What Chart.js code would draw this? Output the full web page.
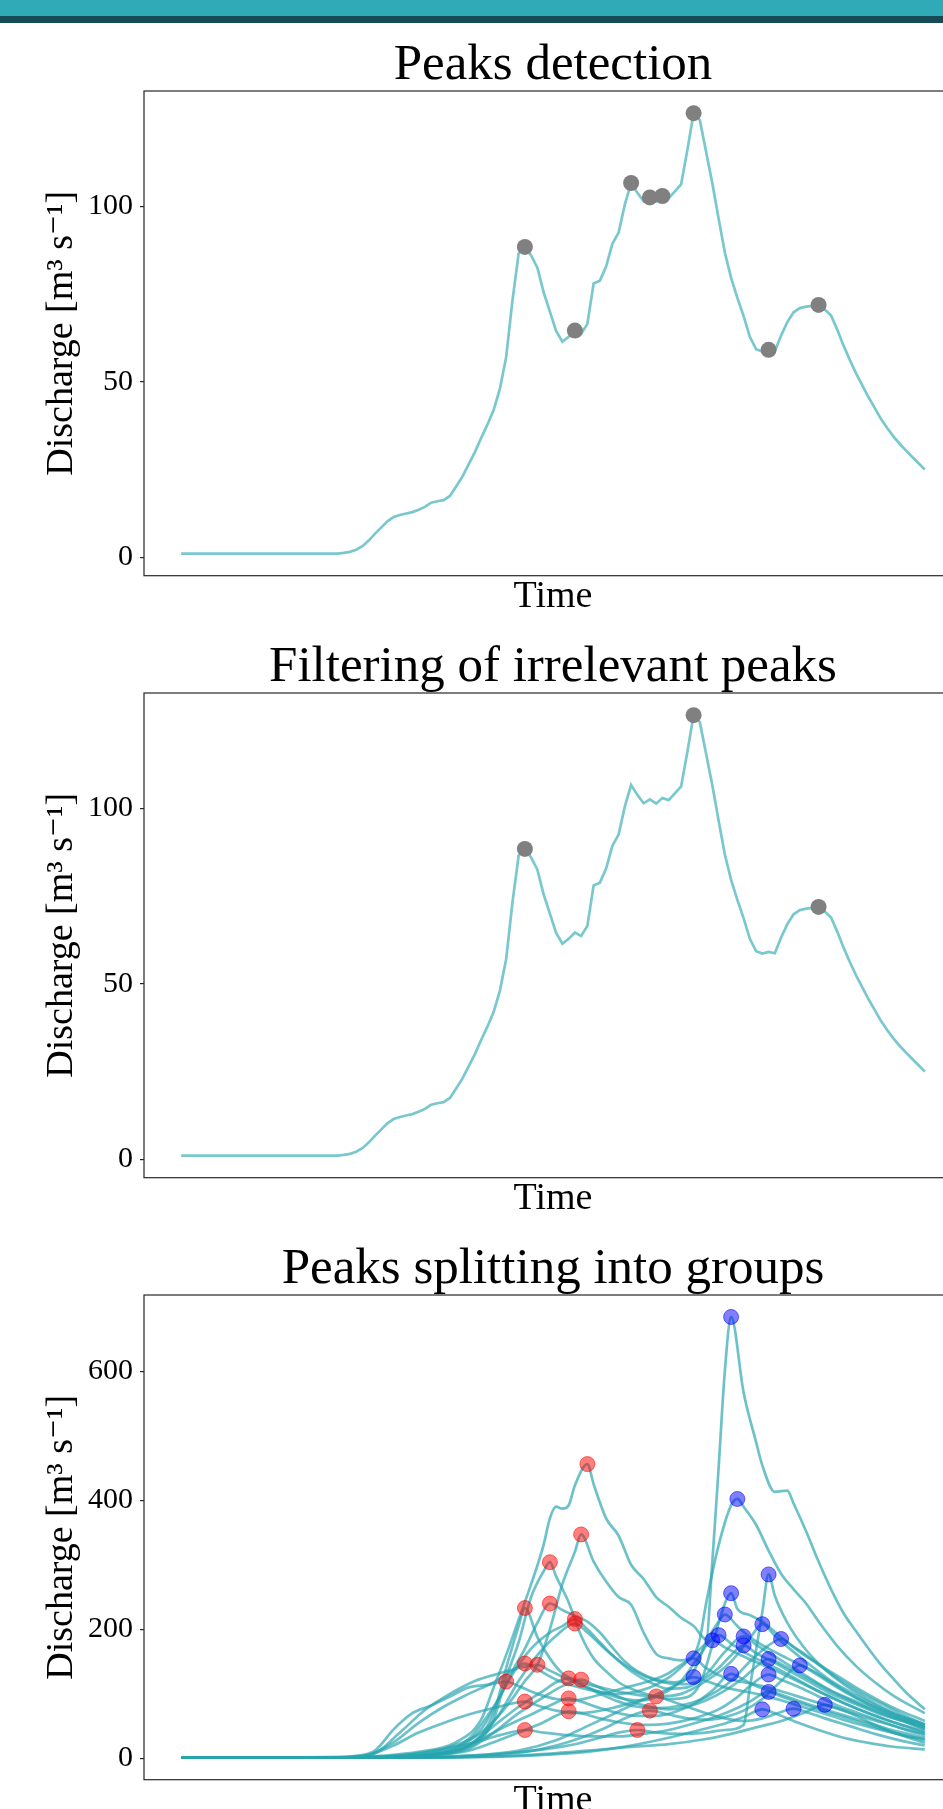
<!DOCTYPE html>
<html lang="en">
<head>
<meta charset="UTF-8">
<title>Peaks detection</title>
<style>
  * { margin: 0; padding: 0; box-sizing: border-box; }
  html, body { width: 943px; height: 1809px; overflow: hidden; background: #fff; }
  .band { position: absolute; left: 0; top: 0; width: 943px; height: 16px; background: #2faab6; }
  .band-dark { position: absolute; left: 0; top: 16px; width: 943px; height: 7px; background: #174b53; }
  canvas { position: absolute; left: 0; }
</style>
</head>
<body>
<div class="band"></div>
<div class="band-dark"></div>
<canvas id="peaks" width="1000" height="640" style="top:0px"></canvas>
<canvas id="filtered" width="1000" height="640" style="top:602px"></canvas>
<canvas id="groups" width="1000" height="640" style="top:1204px"></canvas>

<script src="https://cdn.jsdelivr.net/npm/chart.js@4"></script>
<script>
// hourly discharge of the example event (index = hour)
const flow = [
  1.1, 1.1, 1.1, 1.1, 1.1, 1.1, 1.1, 1.1, 1.1, 1.1,
  1.1, 1.1, 1.1, 1.1, 1.1, 1.1, 1.1, 1.1, 1.1, 1.1,
  1.1, 1.1, 1.1, 1.1, 1.1, 1.1, 1.3, 1.6, 2.2, 3.2,
  4.8, 6.7, 8.5, 10.3, 11.5, 12.1, 12.5, 12.9, 13.6, 14.4,
  15.6, 16.0, 16.3, 17.5, 20.2, 23.0, 26.5, 30.0, 34.0, 37.8,
  42.0, 48.0, 57.0, 73.0, 86.5, 88.4, 86.0, 82.5, 75.5, 70.0,
  64.5, 61.4, 62.8, 64.6, 63.6, 66.5, 78.0, 78.8, 82.8, 89.3,
  92.5, 100.5, 106.6, 103.8, 101.4, 102.5, 101.3, 102.9, 102.3, 104.2,
  106.2, 116.0, 126.5, 124.5, 115.5, 106.5, 96.5, 86.8, 79.6, 73.9,
  68.7, 62.8, 59.3, 58.6, 59.1, 58.7, 63.2, 67.0, 69.8, 71.0,
  71.4, 71.6, 71.9, 70.6, 68.9, 64.8, 60.3, 56.2, 52.4, 49.0,
  45.6, 42.5, 39.4, 36.8, 34.4, 32.3, 30.4, 28.6, 26.8, 25.0
];

// detected peaks (hour indices) before and after filtering
const allPeaks = [55, 63, 72, 75, 77, 82, 94, 102];
const keptPeaks = [55, 82, 102];

const smallTicks = [0, 50, 100];
const bigTicks = [0, 200, 400, 600];

// many events: [hour, discharge]
const events = [
  [[0,1],[26,1.5],[32,4],[38,10],[44,25],[48,60],[50,110],[52,160],[54,215],[56,270],[58,331],[59,372],[60,390],[61,387],[62,392],[63,423],[65,456],[66,425],[68,372],[70,345],[72,300],[74,278],[76,250],[78,235],[80,218],[82,205],[84,185],[85,305],[86,450],[87,600],[88,684],[90,567],[92,490],[93,454],[95,413],[97,415],[98,395],[100,352],[102,305],[104,262],[106,225],[108,197],[110,170],[112,145],[114,123],[116,102],[119,76]],
  [[0,1],[28,1.5],[36,5],[42,15],[48,40],[52,80],[55,120],[57,145],[59,200],[61,270],[63,320],[64,347],[66,305],[68,274],[70,250],[72,238],[74,195],[76,162],[78,155],[80,152],[82,160],[83,185],[84,240],[86,330],[88,392],[89,402],[90,390],[92,362],[94,322],[96,286],[98,262],[100,240],[102,212],[105,174],[108,143],[111,118],[114,97],[119,70]],
  [[0,1],[28,1.5],[38,5],[44,12],[48,30],[50,60],[52,125],[54,180],[56,250],[58,290],[59,304],[60,282],[62,242],[64,190],[66,155],[68,135],[70,118],[72,108],[75,98],[78,92],[81,95],[83,115],[85,175],[87,240],[88,256],[89,232],[91,222],[93,212],[95,196],[97,180],[100,160],[103,138],[106,118],[109,100],[112,85],[115,70],[119,52]],
  [[0,1],[30,2],[40,6],[46,20],[50,70],[52,140],[54,205],[55,233],[57,188],[59,155],[61,132],[64,118],[68,108],[72,100],[76,96],[80,100],[84,120],[88,150],[91,186],[93,208],[95,190],[98,165],[101,142],[104,120],[108,98],[112,78],[116,62],[119,52]],
  [[0,1],[29,1.5],[38,4],[44,15],[48,45],[51,95],[53,135],[55,170],[57,210],[59,240],[61,230],[63,221],[65,212],[67,195],[69,172],[71,150],[73,135],[76,122],[79,118],[82,135],[84,180],[86,212],[87,223],[89,205],[91,188],[94,170],[97,155],[100,140],[103,122],[106,104],[110,84],[114,68],[119,50]],
  [[0,1],[30,2],[40,8],[46,30],[50,80],[53,130],[56,170],[59,195],[61,205],[63,216],[65,200],[67,180],[69,160],[72,135],[75,118],[78,108],[81,110],[84,130],[87,165],[90,189],[92,176],[95,158],[98,140],[101,122],[104,105],[108,88],[112,72],[116,58],[119,48]],
  [[0,1],[32,2],[42,8],[47,25],[51,70],[54,120],[57,160],[60,190],[63,209],[65,195],[68,168],[71,145],[74,128],[77,118],[80,115],[83,120],[86,140],[88,160],[90,175],[92,163],[95,148],[98,132],[101,116],[104,100],[108,84],[112,68],[116,56],[119,45]],
  [[0,1],[24,1.5],[28,4],[31,12],[34,45],[37,70],[40,82],[43,96],[46,110],[49,114],[52,119],[54,112],[57,100],[60,92],[63,90],[66,96],[69,104],[72,112],[75,120],[78,132],[80,145],[82,155],[84,140],[87,125],[90,118],[93,112],[96,104],[100,92],[104,80],[108,68],[112,56],[116,45],[119,38]],
  [[0,1],[25,1.5],[30,6],[34,25],[38,55],[42,80],[46,100],[50,118],[53,136],[55,147],[57,138],[60,122],[63,112],[66,105],[69,100],[72,102],[75,110],[78,125],[81,150],[84,178],[86,191],[88,178],[90,165],[93,150],[96,136],[99,120],[102,104],[106,86],[110,70],[114,56],[119,42]],
  [[0,1],[26,1.5],[31,8],[35,40],[39,75],[43,100],[47,120],[51,132],[54,140],[57,145],[59,136],[62,122],[65,110],[68,100],[71,92],[74,90],[77,100],[80,120],[83,160],[85,183],[87,172],[90,158],[93,145],[96,132],[99,118],[102,104],[106,86],[110,70],[114,56],[119,40]],
  [[0,1],[30,1.5],[40,5],[46,20],[50,50],[54,80],[58,105],[60,118],[62,124],[64,115],[67,100],[70,88],[73,80],[76,78],[80,82],[84,95],[88,120],[91,150],[94,175],[96,185],[98,172],[100,158],[103,140],[106,122],[109,104],[112,88],[115,74],[119,58]],
  [[0,1],[31,2],[40,5],[46,15],[50,40],[54,70],[58,95],[61,112],[64,122],[66,114],[69,100],[72,88],[75,80],[78,76],[81,80],[84,90],[87,105],[90,125],[92,142],[94,154],[96,146],[98,136],[101,120],[104,104],[108,86],[112,70],[116,56],[119,46]],
  [[0,1],[26,1.5],[30,5],[34,20],[38,40],[42,55],[46,68],[50,78],[53,85],[55,88],[57,82],[60,74],[63,70],[66,72],[69,78],[72,86],[75,95],[78,108],[80,118],[82,126],[84,120],[87,110],[90,104],[93,98],[96,90],[100,78],[104,66],[108,54],[112,44],[116,35],[119,30]],
  [[0,1],[30,1.5],[38,5],[44,15],[48,30],[52,50],[56,68],[59,82],[62,93],[64,88],[67,78],[70,70],[73,66],[76,66],[79,72],[82,84],[85,105],[88,131],[90,122],[92,112],[95,102],[98,92],[101,82],[105,70],[109,58],[113,46],[119,32]],
  [[0,1],[32,1.5],[40,4],[46,12],[50,25],[54,40],[58,56],[60,66],[62,73],[64,70],[67,62],[70,56],[74,52],[78,54],[82,62],[86,76],[89,95],[91,112],[94,130],[96,122],[99,110],[102,96],[105,82],[109,68],[113,54],[116,44],[119,36]],
  [[0,1],[28,1.5],[35,5],[42,15],[47,25],[51,36],[55,44],[58,40],[62,36],[66,34],[70,34],[74,38],[78,44],[82,54],[86,66],[89,78],[91,88],[94,103],[96,96],[99,86],[102,76],[106,64],[110,52],[114,40],[119,28]],
  [[0,1],[35,1.5],[45,4],[52,8],[58,14],[63,22],[67,32],[70,40],[73,44],[76,40],[80,38],[84,40],[87,44],[90,52],[91,110],[92,168],[93,227],[94,285],[95,252],[97,210],[100,168],[103,138],[106,115],[109,96],[112,80],[115,66],[119,53]],
  [[0,1],[38,1.5],[48,4],[55,10],[60,20],[64,32],[68,48],[71,62],[75,74],[78,68],[81,62],[84,60],[87,64],[90,74],[93,92],[96,120],[99,144],[101,136],[104,118],[107,100],[110,84],[113,70],[116,58],[119,48]],
  [[0,1],[36,1.5],[46,4],[54,12],[60,28],[65,50],[69,68],[72,82],[76,96],[78,90],[81,80],[84,70],[87,62],[90,58],[93,62],[96,72],[98,77],[100,72],[103,62],[107,50],[111,38],[115,28],[119,20]],
  [[0,1],[40,1.5],[55,4],[65,10],[72,20],[78,32],[83,44],[87,54],[90,64],[93,76],[95,70],[98,58],[102,44],[106,32],[110,24],[114,18],[119,14]],
  [[0,1],[42,1.5],[55,5],[65,12],[72,18],[78,22],[84,30],[88,38],[92,48],[96,58],[100,72],[103,83],[105,78],[108,66],[111,52],[114,40],[117,30],[119,24]]
];

// peaks of the first group (red) and second group (blue)
const redPeaks = [
  [65,456],[64,347],[59,304],[55,233],[59,240],[63,216],[63,209],[52,119],[55,147],[57,145],
  [62,124],[64,122],[55,88],[62,93],[62,73],[55,44],[73,44],[75,74],[76,96]
];
const bluePeaks = [
  [88,684],[89,402],[94,285],[88,256],[87,223],[93,208],[86,191],[85,183],[90,189],[90,175],
  [96,185],[82,155],[94,154],[99,144],[82,126],[88,131],[94,130],[94,103],[93,76],[98,77],[103,83]
];

const lineColor = 'rgba(47,170,180,0.65)';
const groupLineColor = 'rgba(40,165,176,0.68)';
const lastHour = flow.length - 1;
const xMin = -0.05 * lastHour;
const xMax = lastHour * 1.05;

Chart.defaults.font.family = "'Liberation Serif', 'DejaVu Serif', serif";
Chart.defaults.color = '#000';

const frame = {
  id: 'frame',
  afterDatasetsDraw(chart) {
    const { ctx, chartArea: a } = chart;
    ctx.save();
    ctx.strokeStyle = '#262626';
    ctx.lineWidth = 1.2;
    ctx.strokeRect(a.left, a.top, a.right - a.left, a.bottom - a.top);
    ctx.restore();
  }
};

function panel(id, title, yMin, yMax, yTicks, datasets) {
  return new Chart(document.getElementById(id), {
    type: 'scatter',
    data: { datasets: datasets },
    options: {
      responsive: false,
      animation: false,
      devicePixelRatio: 1,
      layout: { padding: { left: 0, right: 38, top: 0, bottom: 0 } },
      plugins: {
        legend: { display: false },
        tooltip: { enabled: false },
        title: {
          display: true, text: title, fullSize: false, color: '#000',
          font: { size: 51, weight: 'normal', lineHeight: 1 },
          padding: { top: 40, bottom: 0 }
        }
      },
      scales: {
        x: {
          type: 'linear', min: xMin, max: xMax,
          afterFit: s => { s.height = 64.3; },
          ticks: { display: false },
          grid: { display: false },
          border: { display: false },
          title: {
            display: true, text: 'Time', color: '#000',
            font: { size: 38, lineHeight: 1 },
            padding: { top: 0, bottom: 24 }
          }
        },
        y: {
          min: yMin, max: yMax,
          afterFit: s => { s.width = 144; },
          afterBuildTicks: s => { s.ticks = yTicks.map(v => ({ value: v })); },
          ticks: { color: '#000', padding: 7, font: { size: 30 } },
          grid: { drawOnChartArea: false, drawTicks: true, tickLength: 4, color: '#262626', lineWidth: 1.2 },
          border: { display: false },
          title: {
            display: true, text: 'Discharge [m³ s⁻¹]', color: '#000',
            font: { size: 38, lineHeight: 1 },
            padding: { top: 43, bottom: 0 }
          }
        }
      }
    },
    plugins: [frame]
  });
}

function flowLine() {
  return {
    data: flow.map((q, i) => ({ x: i, y: q })),
    showLine: true, borderColor: lineColor, borderWidth: 2.7,
    pointRadius: 0, tension: 0
  };
}

function greyDots(idx) {
  return {
    data: idx.map(i => ({ x: i, y: flow[i] })),
    pointRadius: 8, backgroundColor: '#808080', borderWidth: 0
  };
}

panel('peaks', 'Peaks detection', -5.2, 132.8, smallTicks, [greyDots(allPeaks), flowLine()]);
panel('filtered', 'Filtering of irrelevant peaks', -5.2, 132.8, smallTicks, [greyDots(keptPeaks), flowLine()]);

const groupSets = [
  { data: redPeaks.map(p => ({ x: p[0], y: p[1] })), pointRadius: 7.5,
    backgroundColor: 'rgba(255,0,0,0.5)', borderColor: 'rgba(255,0,0,0.55)', borderWidth: 1 },
  { data: bluePeaks.map(p => ({ x: p[0], y: p[1] })), pointRadius: 7.5,
    backgroundColor: 'rgba(0,0,255,0.5)', borderColor: 'rgba(0,0,255,0.55)', borderWidth: 1 }
];
events.forEach(ev => {
  groupSets.push({
    data: ev.map(p => ({ x: p[0], y: p[1] })),
    showLine: true, borderColor: groupLineColor, borderWidth: 2.7,
    pointRadius: 0, cubicInterpolationMode: 'monotone'
  });
});
panel('groups', 'Peaks splitting into groups', -33, 718, bigTicks, groupSets);
</script>
</body>
</html>
